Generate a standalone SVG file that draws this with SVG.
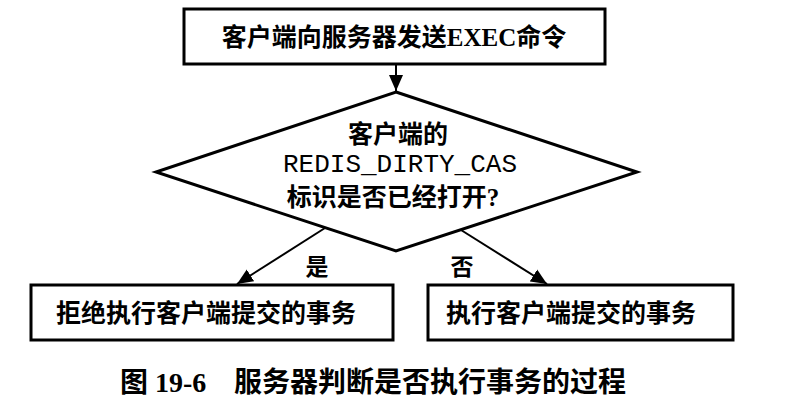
<svg xmlns="http://www.w3.org/2000/svg" width="790" height="404" viewBox="0 0 790 404">
<style>
.box{fill:#fff;stroke:#000;stroke-width:3}
.t{font-family:"Liberation Serif","Noto Sans CJK SC",serif;font-weight:bold;font-size:25px;fill:#000}
.m{font-family:"Liberation Mono","Noto Sans CJK SC",monospace;font-size:26px;fill:#000}
.c{stroke:#000;stroke-width:2;fill:none}
.cap{font-size:28px}
</style>
<defs>
<marker id="ah2" viewBox="0 0 16 16" refX="16" refY="8" markerWidth="16" markerHeight="16" markerUnits="userSpaceOnUse" orient="auto">
<path d="M0,1 L16,8 L0,15 Z" fill="#000"/>
</marker>
</defs>
<g id="start">
<rect class="box" x="184" y="9" width="421" height="55"/>
<text class="t" x="394" y="46" text-anchor="middle">客户端向服务器发送EXEC命令</text>
</g>
<g id="decision">
<polygon class="box" points="396,92 637,172 396,251 156,172"/>
<text class="t" x="398" y="143" text-anchor="middle">客户端的</text>
<text class="m" x="400" y="172" text-anchor="middle">REDIS_DIRTY_CAS</text>
<text class="t" x="393" y="206" text-anchor="middle">标识是否已经打开?</text>
</g>
<g id="reject">
<rect class="box" x="31" y="285" width="362" height="55"/>
<text class="t" x="206" y="322" text-anchor="middle">拒绝执行客户端提交的事务</text>
</g>
<g id="exec">
<rect class="box" x="428" y="285" width="305" height="55"/>
<text class="t" x="571" y="322" text-anchor="middle">执行客户端提交的事务</text>
</g>
<g id="connectors">
<line class="c" x1="396" y1="64" x2="396" y2="91" marker-end="url(#ah2)"/>
<line class="c" x1="325" y1="228" x2="237" y2="284" marker-end="url(#ah2)"/>
<line class="c" x1="461" y1="230" x2="547" y2="284" marker-end="url(#ah2)"/>
<text class="t" x="317" y="275" text-anchor="middle" style="font-size:23px">是</text>
<text class="t" x="462" y="275" text-anchor="middle" style="font-size:23px">否</text>
</g>
<g id="caption">
<text class="t cap" x="120" y="392">图 19-6</text>
<text class="t cap" x="234" y="392">服务器判断是否执行事务的过程</text>
</g>
</svg>
